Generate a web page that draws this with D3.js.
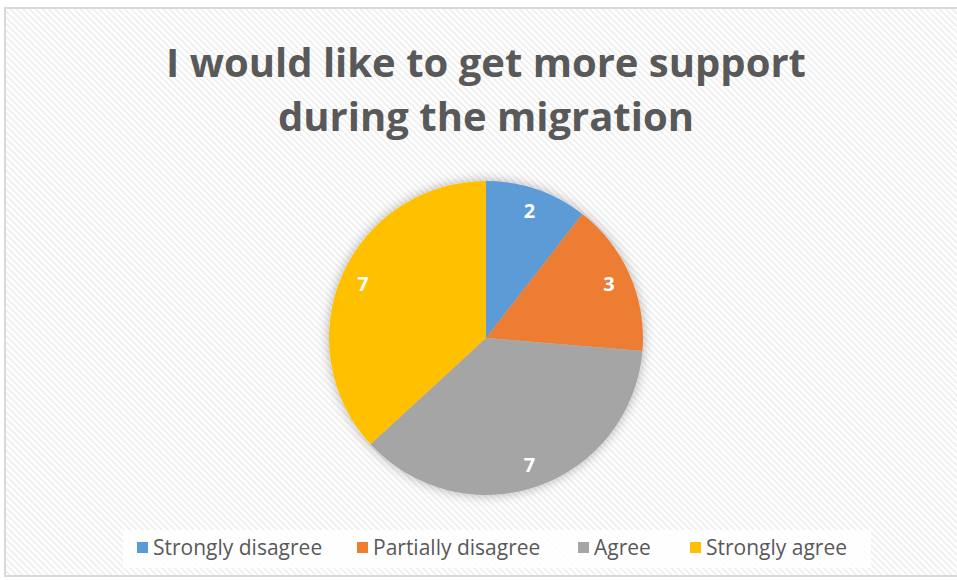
<!DOCTYPE html>
<html lang="en">
<head>
<meta charset="UTF-8">
<script src="https://d3js.org/d3.v7.min.js"></script>
<style>
  body { margin: 0; background: #fff; }
  svg text { font-family: "Open Sans", "DejaVu Sans", sans-serif; }
</style>
</head>
<body>
<div id="chart"></div>
<script>
const titleLines = ["I would like to get more support", "during the migration"];
const categories = ["Strongly disagree", "Partially disagree", "Agree", "Strongly agree"];
const values = [2, 3, 7, 7];
const colors = ["#5b9bd5", "#ed7d31", "#a5a5a5", "#ffc000"];

const W = 957, H = 580;
const svg = d3.select("#chart").append("svg")
    .attr("width", W).attr("height", H);

const defs = svg.append("defs");
const pat = defs.append("pattern")
    .attr("id", "hatch").attr("patternUnits", "userSpaceOnUse")
    .attr("width", 4.5).attr("height", 4.5)
    .attr("patternTransform", "rotate(-45)");
pat.append("rect").attr("width", 4.5).attr("height", 4.5).attr("fill", "#fff");
pat.append("rect").attr("width", 1.8).attr("height", 4.5).attr("fill", "#efefef");

const shadow = defs.append("filter").attr("id", "shadow")
    .attr("x", "-20%").attr("y", "-20%").attr("width", "140%").attr("height", "140%");
shadow.append("feDropShadow").attr("dx", 0).attr("dy", 0)
    .attr("stdDeviation", 6).attr("flood-color", "#000").attr("flood-opacity", 0.3);

// chart area background + frame
svg.append("rect").attr("x", 5).attr("y", 8).attr("width", W).attr("height", 568)
    .attr("fill", "url(#hatch)").attr("stroke", "#d9d9d9").attr("stroke-width", 2);

// title
svg.append("g").selectAll("text")
    .data(titleLines).join("text")
    .attr("x", 486).attr("y", (d, i) => 77 + i * 54)
    .attr("text-anchor", "middle")
    .attr("font-size", 40).attr("font-weight", "bold")
    .attr("fill", "#595959")
    .text(d => d);

// pie
const cx = 486, cy = 338, r = 157;
const pie = d3.pie().sort(null).value(d => d)(values);
const arc = d3.arc().innerRadius(0).outerRadius(r);
const labelArc = d3.arc().innerRadius(r * 0.855).outerRadius(r * 0.855);

const g = svg.append("g").attr("transform", `translate(${cx},${cy})`);
g.append("g").attr("filter", "url(#shadow)")
  .selectAll("path").data(pie).join("path")
    .attr("d", arc)
    .attr("fill", (d, i) => colors[i]);

g.selectAll(".label").data(pie).join("text")
    .attr("class", "label")
    .attr("transform", d => `translate(${labelArc.centroid(d)})`)
    .attr("text-anchor", "middle").attr("dy", "0.35em")
    .attr("font-size", 20).attr("font-weight", "bold")
    .attr("fill", "#fff")
    .text(d => d.data);

// legend
svg.append("rect").attr("x", 123).attr("y", 530).attr("width", 748).attr("height", 38)
    .attr("fill", "#fff").attr("opacity", 0.85);
const legendX = [137, 357, 578, 690];
const lg = svg.append("g").selectAll("g").data(categories).join("g")
    .attr("transform", (d, i) => `translate(${legendX[i]},548)`);
lg.append("rect").attr("x", 0).attr("y", -6).attr("width", 11).attr("height", 11)
    .attr("fill", (d, i) => colors[i]);
lg.append("text").attr("x", 16).attr("dy", "0.35em")
    .attr("font-size", 21).attr("fill", "#595959")
    .text(d => d);
</script>
</body>
</html>
